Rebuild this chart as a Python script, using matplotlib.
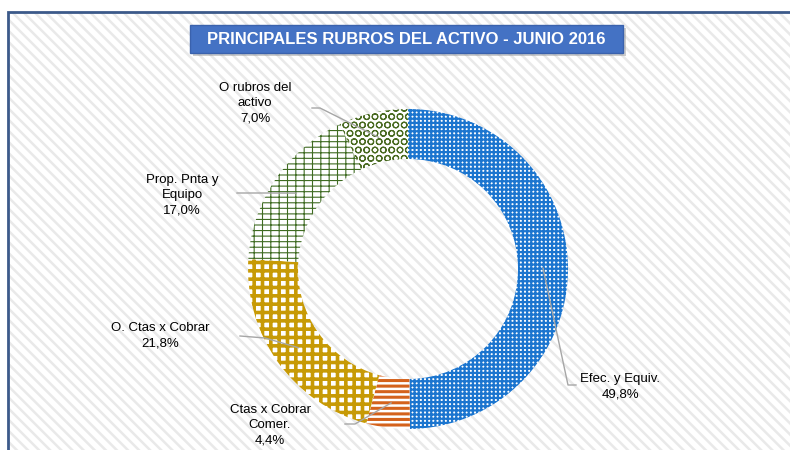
""" Principales rubros del activo - donut chart """
import matplotlib
matplotlib.use('Agg')
import matplotlib.pyplot as plt
from matplotlib.patches import Rectangle
import numpy as np

plt.rcParams['font.family'] = ['Liberation Sans', 'DejaVu Sans']

# data
labels = ['Efec. y Equiv.', 'Ctas x Cobrar\nComer.', 'O. Ctas x Cobrar',
          'Prop. Pnta y\nEquipo', 'O rubros del\nactivo']
values = [49.8, 4.4, 21.8, 17.0, 7.0]
pct_text = ['49,8%', '4,4%', '21,8%', '17,0%', '7,0%']
colors = ['#1b75cf', '#d4621c', '#c79a06', '#3f6b22', '#4a6b22']
hatches = ['++++', '---', '++', '++-', 'OO']
hatch_lw = [1.6, 2.2, 2.6, 0.8, 0.8]
title = 'PRINCIPALES RUBROS DEL ACTIVO - JUNIO 2016'

W, H = 790, 450
fig = plt.figure(figsize=(W / 100, H / 100), dpi=100)
fig.patch.set_facecolor('white')
ax = fig.add_axes([0, 0, 1, 1])

# chart frame with diagonal stripes
bg = Rectangle((8, -20), 800, H - 12 + 20, facecolor='white',
               edgecolor='#e9e9e9', hatch='\\\\\\', linewidth=0, zorder=0)
if hasattr(bg, 'set_hatch_linewidth'):
    bg.set_hatch_linewidth(1.8)
ax.add_patch(bg)
ax.add_patch(Rectangle((8, -20), 800, H - 12 + 20, facecolor='none',
                       edgecolor='#3c5a8a', linewidth=2, zorder=5))

# donut
cx, cy, R, ring = 408, 181, 160, 50
wedges, _ = ax.pie(values, startangle=90, counterclock=False, radius=R,
                   center=(cx, cy), frame=True,
                   wedgeprops=dict(width=ring, linewidth=0))
for w, c, h, lw in zip(wedges, colors, hatches, hatch_lw):
    w.set_facecolor('white')
    w.set_edgecolor(c)
    w.set_linewidth(0)
    w.set_hatch(h)
    w.set_zorder(2)
    if hasattr(w, 'set_hatch_linewidth'):
        w.set_hatch_linewidth(lw)

# label positions (text centre) and leader elbows, in pixels (y up)
text_pos = [(620, 63), (270, 25), (160, 114), (182, 255), (255, 347)]
leader_start = [(576, 65), (345, 26), (240, 114), (237, 257), (312, 342)]
leader_elbow = [(568, 65), (355, 26), (265, 112), (265, 257), (320, 342)]

rm = R - ring / 2
for i, w in enumerate(wedges):
    ang = np.deg2rad((w.theta1 + w.theta2) / 2)
    tx, ty = cx + rm * np.cos(ang), cy + rm * np.sin(ang)
    xs = [leader_start[i][0], leader_elbow[i][0], tx]
    ys = [leader_start[i][1], leader_elbow[i][1], ty]
    ax.plot(xs, ys, color='#a6a6a6', lw=1, zorder=3)
    ax.text(text_pos[i][0], text_pos[i][1], labels[i] + '\n' + pct_text[i],
            ha='center', va='center', fontsize=9.5, color='black',
            linespacing=1.35, zorder=4)

ax.set_xlim(0, W)
ax.set_ylim(0, H)
ax.set_aspect('equal')
ax.axis('off')

# title box with shadow
ax.add_patch(Rectangle((193, H - 56), 433, 28, facecolor='#9a9a9a',
                       alpha=0.5, linewidth=0, zorder=5))
ax.add_patch(Rectangle((190, H - 53), 433, 28, facecolor='#4472c4',
                       edgecolor='#3a62ad', linewidth=1, zorder=6))
ax.text(406, H - 39, title, ha='center', va='center', color='white',
        fontsize=12, fontweight='bold', zorder=7)

fig.savefig('out.png', dpi=100)
